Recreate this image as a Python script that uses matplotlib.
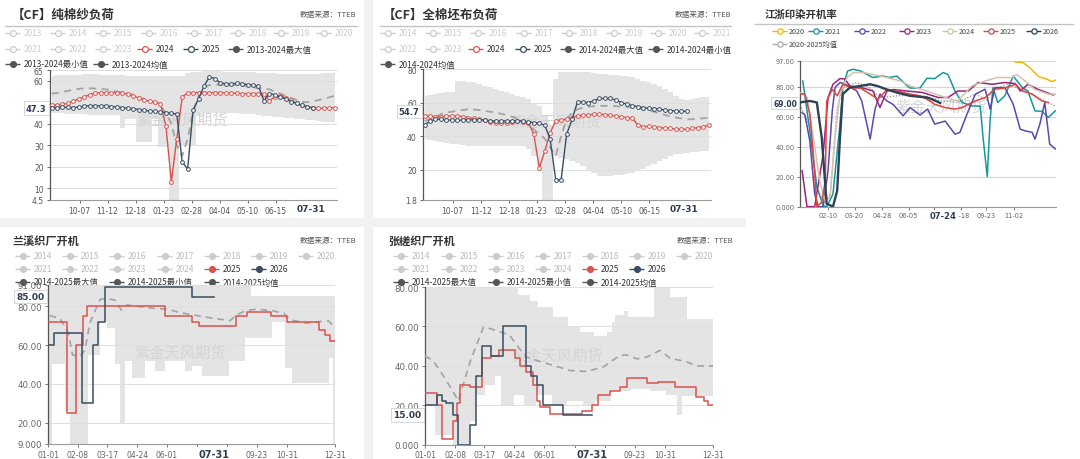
import matplotlib
matplotlib.use("Agg")
import matplotlib.pyplot as plt
from matplotlib.patches import Rectangle

plt.rcParams['font.family'] = ['DejaVu Sans', 'Noto Sans CJK SC']
CJK = ['Noto Sans CJK SC', 'DejaVu Sans']

RED = '#d9534f'
DARK = '#3a4d63'
BAND = '#e4e4e4'
MEAN = '#a3a3a3'
OFF = '#cccccc'
W, H = 1080, 460

# ---------------- data ----------------
# panels 1-2: weekly points, x = days since Sep 1
season_ticks = [36, 72, 108, 144, 180, 216, 252, 288]
season_labels = ['10-07', '11-12', '12-18', '01-23', '02-28', '04-04', '05-10', '06-15']

yarn_2024 = [48.5, 48.8, 49.0, 49.5, 50.5, 51.5, 52.5, 53.5, 54.2, 54.5,
             54.5, 54.5, 54.5, 54.3, 53.8, 53.0, 52.0, 51.0, 50.5, 50.0,
             49.3, 39.0, 13.0, 33.0, 52.5, 54.3, 54.5, 54.5, 54.5, 54.5,
             54.5, 54.5, 54.4, 54.3, 54.2, 54.0, 54.0, 54.0, 54.0, 53.8,
             50.7, 52.5, 53.0, 52.0, 51.0, 49.5, 48.5, 48.0, 47.5, 47.2,
             47.2, 47.3, 47.5]
yarn_2025 = [47.4, 47.5, 47.6, 47.6, 47.5, 47.8, 48.2, 48.4, 48.4, 48.3,
             48.2, 48.0, 47.8, 47.5, 47.2, 47.0, 46.6, 46.2, 45.9, 45.7,
             45.5, 45.2, 44.8, 44.6, 22.0, 19.0, 46.5, 51.6, 57.5, 61.8,
             61.0, 59.0, 58.6, 58.6, 58.8, 58.6, 58.2, 58.0, 57.5, 50.7,
             54.0, 53.5, 52.5, 51.5, 50.2, 49.5, 48.5, 47.8, 47.3]
yarn_mean = [54.0, 54.3, 54.8, 55.3, 55.8, 56.2, 56.5, 56.5, 56.4, 56.2,
             56.0, 55.5, 55.0, 54.5, 54.0, 53.5, 52.5, 51.5, 50.5, 49.5,
             48.4, 45.0, 40.0, 30.0, 25.0, 33.0, 45.0, 53.0, 57.0, 58.0,
             58.2, 58.2, 58.0, 58.0, 58.0, 57.8, 57.5, 57.0, 56.5, 56.3,
             56.0, 55.0, 54.0, 53.0, 52.0, 51.0, 50.2, 50.0, 50.3, 51.0,
             51.6, 52.3, 53.0]
yarn_max = [62.3, 62.5, 62.5, 62.5, 62.5, 62.8, 63.0, 63.0, 63.0, 62.8,
            62.5, 62.5, 62.5, 62.5, 62.3, 62.3, 62.3, 62.0, 62.0, 62.0,
            62.0, 62.0, 62.0, 62.0, 62.0, 63.5, 64.0, 64.3, 64.5, 64.5,
            64.5, 64.5, 64.3, 64.3, 64.2, 64.0, 64.0, 64.0, 63.8, 63.8,
            63.5, 63.5, 63.3, 63.3, 63.0, 63.0, 63.0, 63.0, 63.0, 63.2,
            63.5, 63.5, 63.8]
yarn_min = [45.0, 45.0, 45.0, 44.5, 44.5, 44.5, 44.5, 44.0, 44.0, 44.0,
            44.0, 44.0, 44.0, 38.0, 42.0, 42.0, 31.5, 31.5, 31.5, 42.0,
            29.0, 29.0, 4.5, 4.5, 29.4, 29.4, 29.4, 43.7, 45.0, 45.0,
            45.0, 45.0, 45.0, 45.0, 44.8, 44.6, 44.5, 44.3, 44.0, 43.8,
            43.5, 43.2, 43.0, 42.8, 42.5, 42.2, 42.0, 41.8, 41.5, 41.2,
            41.0, 41.0, 41.0]

cloth_2024 = [52.0, 52.0, 51.5, 51.5, 52.0, 52.0, 52.0, 51.5, 51.0, 50.5,
              50.0, 49.5, 48.5, 48.0, 47.5, 48.0, 48.5, 49.0, 48.5, 48.0,
              41.0, 21.0, 31.0, 42.0, 49.0, 49.5, 50.0, 51.0, 52.0, 52.5,
              52.5, 53.0, 53.0, 52.8, 52.4, 52.0, 51.5, 51.0, 51.0, 46.5,
              45.6, 45.8, 45.5, 45.0, 44.8, 44.5, 44.2, 44.0, 44.0, 44.5,
              45.0, 45.5, 46.4]
cloth_2025 = [46.4, 49.0, 50.0, 50.0, 49.6, 49.5, 49.4, 49.5, 49.6, 49.6,
              49.6, 49.4, 49.2, 49.0, 49.0, 49.0, 49.0, 49.0, 49.0, 48.5,
              48.0, 47.5, 46.5, 38.0, 14.0, 14.0, 41.0, 50.0, 60.4, 60.2,
              60.0, 61.0, 62.4, 62.4, 62.4, 61.5, 60.0, 59.0, 58.2, 57.5,
              57.0, 56.5, 56.4, 56.0, 55.5, 55.2, 55.0, 54.7, 54.7]
cloth_mean = [49.0, 50.0, 51.5, 53.0, 54.0, 54.5, 55.0, 55.5, 56.0, 55.8,
              55.5, 55.0, 54.5, 54.0, 53.3, 52.5, 51.5, 50.5, 49.5, 47.0,
              44.0, 41.0, 38.5, 33.0, 28.0, 40.0, 50.0, 54.0, 56.0, 57.0,
              57.5, 57.8, 58.0, 58.0, 58.0, 57.8, 57.5, 57.3, 57.0, 56.5,
              56.0, 55.3, 54.5, 53.5, 52.5, 51.8, 51.0, 50.5, 50.0, 50.0,
              50.3, 50.6, 51.0]
cloth_max = [64.0, 64.5, 65.0, 65.5, 66.0, 66.0, 73.0, 73.0, 72.5, 72.0,
             71.0, 70.0, 69.0, 68.0, 67.0, 66.0, 65.0, 64.0, 63.0, 62.0,
             60.0, 58.0, 52.0, 46.0, 74.0, 78.0, 78.0, 78.0, 78.0, 78.0,
             78.0, 77.5, 77.0, 77.0, 76.5, 76.5, 76.0, 76.0, 75.0, 74.0,
             73.0, 72.0, 71.0, 70.0, 68.0, 66.0, 64.0, 62.0, 61.5, 62.0,
             62.5, 63.0, 63.0]
cloth_min = [38.0, 37.5, 37.0, 36.5, 36.0, 35.5, 35.0, 34.5, 34.0, 34.0,
             34.0, 34.0, 34.0, 34.0, 34.0, 34.0, 34.0, 34.0, 34.0, 32.0,
             28.0, 22.0, 2.0, 2.0, 28.0, 27.0, 26.0, 25.0, 24.0, 22.0,
             20.0, 18.0, 16.0, 16.0, 16.0, 16.5, 17.0, 17.5, 18.0, 19.0,
             20.5, 22.0, 23.5, 25.0, 26.5, 28.0, 29.0, 29.5, 30.0, 30.5,
             30.5, 31.0, 31.0]

# panel 3: (day of year, value)
dye_ticks = [40, 78, 117, 155, 191, 229, 265, 305]
dye_labels = ['02-10', '03-20', '04-28', '06-05', '', '08-18', '09-23', '11-02']
dye_2020 = [(307, 96.3), (318, 96.0), (330, 91.5), (340, 86.6), (352, 84.9), (359, 83.3), (364, 84.2)]
dye_2021 = [(4, 83.7), (14, 50.5), (24, 13), (33, 0.7), (38, 0), (47, 8.4), (57, 55), (61, 79.3),
            (68, 90.4), (76, 91.5), (86, 90.4), (104, 86), (118, 87), (128, 86), (138, 87),
            (153, 80.4), (157, 79), (171, 79), (181, 85.5), (192, 85.3), (204, 89.3), (211, 88),
            (221, 77), (231, 69.4), (245, 67.1), (257, 67), (261, 46), (267, 20), (271, 57),
            (275, 79.3), (282, 69.4), (292, 73.8), (304, 87), (317, 79.3), (325, 77),
            (335, 63.8), (345, 63.5), (354, 59.4), (364, 63.8)]
dye_2022 = [(3, 62.7), (7, 61), (14, 43.9), (21, 8.4), (26, 0), (33, 0), (40, 24), (46, 63.8),
            (50, 79.3), (57, 82.7), (67, 81), (81, 77), (88, 70.4), (100, 45), (107, 65),
            (114, 74.9), (124, 70.4), (133, 68), (147, 60.5), (157, 66), (171, 61), (182, 65),
            (192, 55), (207, 57), (221, 48.3), (228, 49.5), (238, 61.6), (250, 74.9),
            (264, 78.2), (271, 65), (278, 79.3), (292, 79.3), (304, 68.2), (314, 51.6),
            (321, 50.5), (331, 49.5), (335, 45), (342, 55), (349, 69.4), (356, 41.7), (364, 38.4)]
dye_2023 = [(3, 24), (10, 0), (21, 0), (33, 35), (40, 72.7), (47, 81.5), (57, 85.3), (64, 85),
            (71, 80.4), (90, 79), (104, 77), (114, 66), (124, 77), (133, 78), (153, 77),
            (175, 76), (197, 72.7), (211, 72.7), (225, 77), (240, 77), (254, 82.7),
            (274, 81.5), (292, 82.7), (307, 82), (314, 77), (325, 81.5), (339, 78.2), (361, 74.4)]
dye_2024 = [(0, 76), (10, 73), (19, 46), (29, 15), (36, 4), (43, 6.4), (50, 46), (57, 75),
            (67, 86), (76, 89.3), (90, 89.3), (104, 88), (124, 86), (143, 83.7), (157, 80.4),
            (181, 77), (207, 72.7), (225, 70.4), (245, 80.4), (264, 83.7), (281, 86),
            (302, 86), (309, 88), (321, 83.7), (335, 78), (354, 75), (364, 75)]
dye_2025 = [(0, 75.3), (7, 75), (14, 61.6), (19, 35), (24, 0), (31, 3), (36, 17.3), (38, 70.4),
            (46, 78.2), (53, 73.8), (61, 81.5), (74, 79), (86, 79), (100, 75), (111, 71.6),
            (124, 78), (138, 77), (157, 75), (171, 73.8), (181, 71.6), (192, 68.2), (207, 66),
            (221, 65), (231, 66), (250, 70.4), (264, 72.7), (278, 78.2), (292, 79),
            (307, 81.5), (317, 77), (331, 75), (345, 70.4), (354, 69.4)]
dye_2026 = [(0, 69.4), (14, 70.4), (24, 69.4), (31, 46), (38, 2), (47, 0), (53, 10.6), (57, 46),
            (61, 75), (71, 79.3), (86, 80.4), (100, 81.5), (110, 80.4), (124, 78), (138, 76),
            (157, 73.8), (181, 72.7), (188, 71.6), (200, 69.0)]
dye_mean = [(0, 68), (14, 53), (24, 13), (34, 3), (43, 8.4), (53, 66), (61, 79), (81, 82.7),
            (100, 79), (114, 72.7), (143, 74), (178, 73.8), (202, 70.4), (225, 69.4), (250, 75),
            (267, 71), (274, 78), (297, 81.5), (321, 77), (339, 72.7), (364, 67)]

# panels 4-5: step series, (day of year, value from that day on)
mill_ticks = [0, 38, 75, 113, 151, 189, 227, 265, 303, 364]
mill_labels = ['01-01', '02-08', '03-17', '04-24', '06-01', '', '', '09-23', '10-31', '12-31']

lanxi_2025 = [(0, 72), (24, 25), (36, 60), (44, 75), (50, 80), (148, 75), (182, 72), (191, 70),
              (239, 75), (253, 77), (283, 75), (303, 72), (344, 68), (351, 65), (358, 62), (364, 62)]
lanxi_2026 = [(0, 60), (8, 66), (43, 30), (57, 60), (64, 72), (72, 90), (182, 85), (211, 85)]
lanxi_mean = [(2, 75.2), (15, 73.8), (26, 66.2), (31, 55.0), (41, 54.2), (47, 57.6), (53, 71.3),
              (62, 79.8), (66, 83.6), (74, 84.1), (85, 83.2), (93, 78.1), (100, 80.7), (117, 79.8),
              (134, 79.0), (151, 78.5), (167, 76.8), (184, 75.6), (210, 73.8), (231, 72.6),
              (239, 75.6), (252, 77.9), (265, 78.5), (282, 77.9), (299, 76.5), (307, 73.1),
              (328, 71.3), (345, 72.2), (356, 72.5), (362, 69.6)]
lanxi_max = [(0, 91), (258, 85.5), (364, 85.5)]
lanxi_min = [(0, 9), (5, 50), (22, 26), (28, 9), (51, 55), (66, 72), (75, 68.7), (85, 50), (91, 20),
             (98, 51.6), (106, 43), (123, 51.6), (136, 46.5), (149, 51.6), (174, 46.5), (182, 49),
             (195, 44), (229, 51.6), (250, 63.6), (284, 72), (301, 48.2), (309, 40.5), (356, 53.3),
             (362, 9), (364, 9)]

zc_2025 = [(0, 26), (15, 20), (21, 3), (36, 12), (40, 21), (44, 30), (57, 29), (72, 44), (84, 45),
           (93, 48), (114, 44), (120, 40), (128, 37), (137, 30), (141, 22), (145, 19), (158, 15.5),
           (198, 17), (211, 20), (219, 25), (234, 27), (246, 29), (255, 34), (280, 31), (295, 32),
           (316, 29), (343, 24), (352, 22), (358, 20), (364, 20)]
zc_2026 = [(0, 20), (15, 25), (21, 22), (27, 21), (36, 15), (42, 0), (57, 10), (64, 35), (72, 50),
           (84, 45), (99, 60), (128, 40), (134, 35), (141, 30), (149, 20), (175, 15), (211, 15)]
zc_mean = [(0, 45), (10, 42.7), (23, 35), (36, 26.5), (42, 22.2), (48, 30), (57, 42), (65, 50.4),
           (74, 59.7), (82, 58.9), (95, 57.2), (107, 55.5), (116, 50.4), (128, 44.4), (141, 42.7),
           (162, 40.2), (183, 37.6), (204, 37.1), (225, 39.3), (246, 45.2), (255, 45.5),
           (268, 43.5), (280, 44.4), (297, 47.8), (310, 43.8), (331, 42), (343, 39.9), (364, 39.9)]
zc_max = [(0, 80), (118, 76), (133, 73), (143, 70), (162, 65), (181, 60), (196, 57), (213, 55),
          (230, 57), (236, 62), (240, 66), (251, 68), (257, 65), (289, 80), (310, 75), (331, 64),
          (364, 64)]
zc_min = [(0, 20), (13, 5), (36, 0), (57, 12), (65, 25), (76, 30), (88, 35), (96, 20), (112, 25),
          (125, 20), (140, 25), (160, 20), (180, 22), (200, 20), (215, 22), (235, 27), (260, 28),
          (285, 27), (305, 25), (318, 15), (325, 24.6), (364, 24.6)]

# ---------------- helpers ----------------
fig = plt.figure(figsize=(10.8, 4.6), dpi=100)
ov = fig.add_axes([0, 0, 1, 1], zorder=-1)
ov.set_xlim(0, W)
ov.set_ylim(H, 0)
ov.axis('off')


def make_ax(l, t, r, b):
    ax = fig.add_axes([l / W, 1 - b / H, (r - l) / W, (b - t) / H])
    ax.patch.set_visible(False)
    for s in ('top', 'right'):
        ax.spines[s].set_visible(False)
    ax.spines['left'].set_color('#555555')
    ax.spines['bottom'].set_color('#9a9a9a')
    ax.spines['left'].set_linewidth(0.9)
    ax.spines['bottom'].set_linewidth(0.8)
    ax.yaxis.grid(True, color='#dedede', lw=0.7)
    ax.set_axisbelow('line')
    return ax


def xy(points):
    return [p[0] for p in points], [p[1] for p in points]


def step_value(points, d):
    v = points[0][1]
    for x, y in points:
        if x <= d:
            v = y
    return v


def step_band(ax, lo, hi):
    xs = sorted(set([p[0] for p in lo] + [p[0] for p in hi]))
    ax.fill_between(xs, [step_value(lo, x) for x in xs], [step_value(hi, x) for x in xs],
                    step='post', color=BAND, lw=0, zorder=1)


def watermark(ax, x, y):
    ax.text(x, y, '紫金天风期货', transform=ax.transAxes, fontsize=11, color='#d4d4d4',
            ha='center', va='center', family=CJK, zorder=1.8)


def value_tag(ax, v, text, size=6):
    ax.text(-0.012, v, text, transform=ax.get_yaxis_transform(), ha='right', va='center',
            fontsize=size, fontweight='bold', color='#2f3e50', clip_on=False, zorder=10,
            bbox=dict(boxstyle='square,pad=0.25', fc='white', ec='#d0d0d0', lw=0.6))


def date_tag(ax, d, text, size=6.5):
    ax.text(d, -0.03, text, transform=ax.get_xaxis_transform(), ha='center', va='top',
            fontsize=size, fontweight='bold', color='#2f3e50', clip_on=False, zorder=10,
            bbox=dict(boxstyle='square,pad=0.15', fc='white', ec='none'))


def legend_item(x, y, label, color, tcolor, filled=False, size=6, ms=4.2, gap=19):
    ov.plot([x, x + 15], [y, y], color=color, lw=1, solid_capstyle='butt')
    ov.plot([x + 7.5], [y], 'o', ms=ms, mfc=(color if filled else 'white'), mec=color, mew=0.9)
    ov.text(x + gap, y, label, fontsize=size, color=tcolor, va='center', ha='left', family=CJK)


def header(x, y, title, src_x=None, size=9, line=None):
    ov.text(x, y, title, fontsize=size, fontweight='bold', color='#333333', va='center',
            ha='left', family=CJK)
    if src_x is not None:
        ov.text(src_x, y, '数据来源：TTEB', fontsize=5.5, color='#555555', va='center',
                ha='right', family=CJK)
    if line is not None:
        ov.plot(line[:2], [line[2], line[2]], color='#c4c4c4', lw=1)


# separators
ov.add_patch(Rectangle((364, 0), 9, H, color='#f2f2f2', lw=0))
ov.add_patch(Rectangle((0, 219), 746, 9, color='#f2f2f2', lw=0))

weeks = [7 * i for i in range(53)]


def season_panel(box, cur_prev, cur, mean, lo, hi, ylim, yticks, wm):
    ax = make_ax(*box)
    ax.set_xlim(-2, 367)
    ax.set_ylim(*ylim)
    ax.fill_between(weeks, lo, hi, step='mid', color=BAND, lw=0, zorder=1)
    watermark(ax, *wm)
    ax.plot(weeks, mean, ls=(0, (4, 3)), color=MEAN, lw=1.3, zorder=3)
    ax.plot(weeks[:len(cur_prev)], cur_prev, color=RED, lw=1, marker='o', ms=2.7,
            mfc='white', mec=RED, mew=0.7, zorder=4)
    ax.plot(weeks[:len(cur)], cur, color=DARK, lw=1, marker='o', ms=2.7,
            mfc='white', mec=DARK, mew=0.7, zorder=5)
    ax.set_yticks(yticks)
    ax.set_yticklabels([('%g' % t) for t in yticks])
    ax.set_xticks(season_ticks)
    ax.set_xticklabels(season_labels)
    ax.tick_params(axis='both', labelsize=5.5, colors='#555555', length=2.5, width=0.6, pad=2)
    value_tag(ax, cur[-1], '%.1f' % cur[-1])
    date_tag(ax, 333, '07-31')
    return ax


# ---------------- panel 1 ----------------
header(12, 15, '【CF】纯棉纱负荷', 356, line=(5, 357, 27))
for k, yr in enumerate(range(2013, 2021)):
    legend_item([5, 50, 95, 141, 186, 230, 273, 316][k], 34, str(yr), OFF, OFF)
for k, yr in enumerate([2021, 2022, 2023]):
    legend_item([5, 50, 95][k], 50, str(yr), OFF, OFF)
legend_item(137, 50, '2024', RED, '#333333')
legend_item(183, 50, '2025', DARK, '#333333')
legend_item(228, 50, '2013-2024最大值', '#555555', '#333333', filled=True)
legend_item(5, 65, '2013-2024最小值', '#555555', '#333333', filled=True)
legend_item(93, 65, '2013-2024均值', '#555555', '#333333', filled=True)
season_panel((50, 71, 337, 201), yarn_2024, yarn_2025, yarn_mean, yarn_min, yarn_max,
             (4.5, 65), [4.5, 10, 20, 30, 40, 60, 65], (0.46, 0.62))

# ---------------- panel 2 ----------------
header(383, 15, '【CF】全棉坯布负荷', 731, line=(380, 731, 27))
for k, yr in enumerate(range(2014, 2022)):
    legend_item([380, 425, 470, 516, 561, 606, 650, 694][k], 34, str(yr), OFF, OFF)
legend_item(380, 50, '2022', OFF, OFF)
legend_item(425, 50, '2023', OFF, OFF)
legend_item(468, 50, '2024', RED, '#333333')
legend_item(515, 50, '2025', DARK, '#333333')
legend_item(560, 50, '2014-2024最大值', '#555555', '#333333', filled=True)
legend_item(648, 50, '2014-2024最小值', '#555555', '#333333', filled=True)
legend_item(380, 65, '2014-2024均值', '#555555', '#333333', filled=True)
season_panel((423, 70, 711, 201), cloth_2024, cloth_2025, cloth_mean, cloth_min, cloth_max,
             (1.8, 80), [1.8, 20, 40, 60, 80], (0.46, 0.6))

# ---------------- panel 3 ----------------
header(765, 15, '江浙印染开机率', None, size=7.5, line=(755, 1073, 25))
dye_series = [('2020', dye_2020, '#f2b705', 1.1), ('2021', dye_2021, '#16979a', 1.1),
              ('2022', dye_2022, '#5a48ad', 1.1), ('2023', dye_2023, '#9a2478', 1.1),
              ('2024', dye_2024, '#d3c2ad', 1.1), ('2025', dye_2025, '#e0443e', 1.1),
              ('2026', dye_2026, '#2e4255', 1.7)]
for k, (name, pts, col, lw) in enumerate(dye_series):
    legend_item([772, 808, 854, 899, 942, 983, 1026][k], 32, name, col, '#444444',
                size=5.2, ms=3.8, gap=17)
legend_item(772, 45, '2020-2025均值', '#aaaaaa', '#444444', size=5.2, ms=3.8, gap=17)
ax3 = make_ax(800, 62, 1056, 207.7)
ax3.set_xlim(0, 365)
ax3.set_ylim(0, 97)
watermark(ax3, 0.55, 0.69)
ax3.plot(*xy(dye_mean), color='#a0a0a0', lw=1.0, ls=(0, (1, 1.2)), zorder=2.5)
for name, pts, col, lw in dye_series:
    ax3.plot(*xy(pts), color=col, lw=lw, zorder=3 if name != '2026' else 4)
ax3.set_yticks([0, 20, 40, 60, 80, 97])
ax3.set_yticklabels(['0.000', '20.00', '40.00', '60.00', '80.00', '97.00'])
ax3.set_xticks(dye_ticks)
ax3.set_xticklabels(dye_labels)
ax3.tick_params(axis='both', labelsize=4.8, colors='#666666', length=2, width=0.6, pad=2)
ax3.yaxis.grid(True, color='#d6d6d6', lw=0.8)
value_tag(ax3, dye_2026[-1][1], '%.2f' % dye_2026[-1][1], size=5.5)
date_tag(ax3, 204, '07-24', size=6)


# ---------------- panels 4-5 ----------------
def mill_panel(box, cur_prev, cur, mean, lo, hi, ylim, yticks, ylabels, wm):
    ax = make_ax(*box)
    ax.set_xlim(0, 364)
    ax.set_ylim(*ylim)
    step_band(ax, lo, hi)
    watermark(ax, *wm)
    ax.plot(*xy(mean), ls=(0, (4, 3)), color=MEAN, lw=1.2, zorder=3)
    ax.plot(*xy(cur_prev), color=RED, lw=1.1, drawstyle='steps-post', zorder=4)
    ax.plot(*xy(cur), color=DARK, lw=1.1, drawstyle='steps-post', zorder=5)
    ax.set_yticks(yticks)
    ax.set_yticklabels(ylabels)
    ax.set_xticks(mill_ticks)
    ax.set_xticklabels(mill_labels)
    ax.tick_params(axis='both', labelsize=5.5, colors='#666666', length=2, width=0.6, pad=2)
    ax.tick_params(axis='y', labelsize=6.2)
    value_tag(ax, cur[-1][1], '%.2f' % cur[-1][1], size=6.5)
    date_tag(ax, 211, '07-31', size=7)
    return ax


def mill_legend(xs, span):
    for k, yr in enumerate(range(2014, 2021)):
        legend_item(xs[k], 257, str(yr), OFF, '#bbbbbb', filled=True)
    for k, yr in enumerate(range(2021, 2025)):
        legend_item(xs[k], 270, str(yr), OFF, '#bbbbbb', filled=True)
    legend_item(xs[4], 270, '2025', RED, '#333333', filled=True)
    legend_item(xs[5], 270, '2026', DARK, '#333333', filled=True)
    legend_item(xs[0], 283, span + '最大值', '#555555', '#333333', filled=True)
    legend_item(xs[2], 283, span + '最小值', '#555555', '#333333', filled=True)
    legend_item(xs[4], 283, span + '均值', '#555555', '#333333', filled=True)


header(12, 241, '兰溪织厂开机', 356, size=8)
mill_legend([15, 62, 109, 157, 204, 251, 298], '2014-2025')
mill_panel((48, 286, 335, 445), lanxi_2025, lanxi_2026, lanxi_mean, lanxi_min, lanxi_max,
           (9, 91), [9, 20, 40, 60, 80, 91], ['9.000', '20.00', '40.00', '60.00', '80.00', '91.00'],
           (0.46, 0.58))

header(388, 241, '张槎织厂开机', 733, size=8)
mill_legend([393, 441, 488, 535, 582, 629, 676], '2014-2025')
mill_panel((425, 288, 713, 445.5), zc_2025, zc_2026, zc_mean, zc_min, zc_max,
           (0, 80), [0, 20, 40, 60, 80], ['0.000', '20.00', '40.00', '60.00', '80.00'],
           (0.46, 0.57))

fig.savefig('out.png', dpi=100)
